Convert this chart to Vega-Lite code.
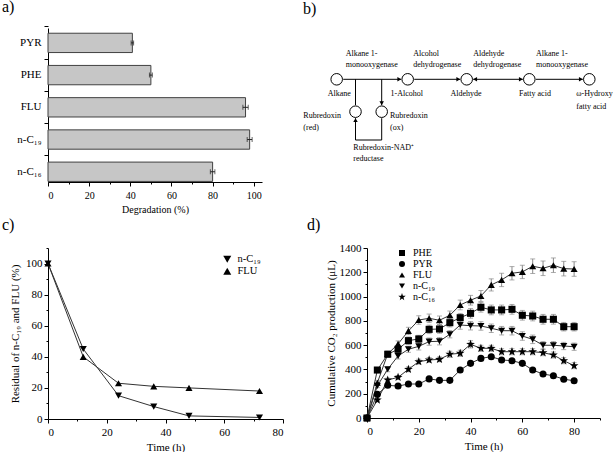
{
  "$schema": "https://vega.github.io/schema/vega-lite/v6.json",
  "padding": {"left": 2, "top": -2, "right": 0, "bottom": 0},
  "background": "white",
  "config": {
    "font": "Liberation Serif",
    "view": {"stroke": null},
    "axis": {"grid": false, "domainColor": "#000", "tickColor": "#000", "labelColor": "#000", "titleColor": "#000", "labelFontSize": 11, "titleFontSize": 11, "titleFontWeight": "normal", "tickSize": 4, "labelPadding": 2, "titlePadding": 4, "labelFont": "Liberation Serif", "titleFont": "Liberation Serif", "labelOverlap": false},
    "title": {"fontSize": 16, "fontWeight": "normal", "anchor": "start", "frame": "group", "baseline": "alphabetic", "color": "#000", "font": "Liberation Serif"},
    "legend": {"labelFont": "Liberation Serif", "labelColor": "#000"}
  },
  "columns": 2,
  "align": "each",
  "bounds": "flush",
  "spacing": {"row": 66, "column": 84},
  "resolve": {"scale": {"shape": "independent"}, "legend": {"shape": "independent"}},
  "concat": [
    {
      "width": 214, "height": 154,
      "title": {"text": "a)", "dx": -46, "offset": 11},
      "data": {"values": [
        {"sample": "PYR", "degradation": 41, "error": 0.6},
        {"sample": "PHE", "degradation": 50, "error": 0.7},
        {"sample": "FLU", "degradation": 96, "error": 1.3},
        {"sample": "n-C₁₉", "degradation": 98, "error": 1.2},
        {"sample": "n-C₁₆", "degradation": 80, "error": 1.1}
      ]},
      "layer": [
        {"mark": {"type": "bar", "fill": "#c6c6c6", "stroke": "#404040", "strokeWidth": 1},
         "encoding": {
           "y": {"field": "sample", "type": "nominal", "sort": ["PYR", "PHE", "FLU", "n-C₁₉", "n-C₁₆"],
                 "scale": {"paddingInner": 0.4, "paddingOuter": 0.09, "align": 0.9},
                 "axis": {"title": null, "labelFontSize": 11, "tickSize": 4, "labelPadding": 3, "bandPosition": -0.33, "labelOverlap": false}},
           "x": {"field": "degradation", "type": "quantitative", "title": "Degradation (%)",
                 "scale": {"domain": [0, 104], "nice": false},
                 "axis": {"values": [0, 10, 20, 30, 40, 50, 60, 70, 80, 90, 100], "tickCount": 100, "labelExpr": "datum.value % 20 === 0 ? datum.label : ''",
                          "tickSize": {"condition": {"test": "datum.value % 20 === 0", "value": 4}, "value": 2}, "labelOverlap": false,
                          "labelFontSize": 10, "titleFontSize": 10, "labelPadding": 4, "titlePadding": 4}}
         }},
        {"mark": {"type": "errorbar", "ticks": {"size": 5}, "color": "#222"},
         "encoding": {
           "y": {"field": "sample", "type": "nominal", "sort": ["PYR", "PHE", "FLU", "n-C₁₉", "n-C₁₆"]},
           "x": {"field": "degradation", "type": "quantitative", "title": "Degradation (%)"},
           "xError": {"field": "error"}
         }}
      ]
    },
    {
      "width": 233, "height": 154,
      "title": {"text": "b)", "dx": -64, "offset": 11},
      "layer": [
        {"data": {"values": [
          {"u": 43.2, "v": 51.3, "u2": 101.2, "v2": 51.3},
          {"u": 114.2, "v": 51.3, "u2": 160.2, "v2": 51.3},
          {"u": 173.2, "v": 51.3, "u2": 222.8, "v2": 51.3},
          {"u": 235.8, "v": 51.3, "u2": 282.8, "v2": 51.3},
          {"u": 55.5, "v": 51.3, "u2": 55.5, "v2": 77.2},
          {"u": 81.7, "v": 51.3, "u2": 81.7, "v2": 77.2},
          {"u": 55.5, "v": 90.2, "u2": 55.5, "v2": 112},
          {"u": 55.5, "v": 112, "u2": 81.7, "v2": 112},
          {"u": 81.7, "v": 90.2, "u2": 81.7, "v2": 112}
         ]},
         "mark": {"type": "rule", "color": "#000", "strokeWidth": 1},
         "encoding": {
           "x": {"field": "u", "type": "quantitative", "scale": {"domain": [67, 300], "nice": false, "zero": false}, "axis": null},
           "y": {"field": "v", "type": "quantitative", "scale": {"domain": [0, 154], "reverse": true, "nice": false, "zero": false}, "axis": null},
           "x2": {"field": "u2"},
           "y2": {"field": "v2"}
         }},
        {"data": {"values": [
          {"u": 99.3, "v": 51.3, "dir": "right"},
          {"u": 158.3, "v": 51.3, "dir": "right"},
          {"u": 175.1, "v": 51.3, "dir": "left"},
          {"u": 220.9, "v": 51.3, "dir": "right"},
          {"u": 280.9, "v": 51.3, "dir": "right"},
          {"u": 81.7, "v": 75.3, "dir": "down"},
          {"u": 55.5, "v": 92.1, "dir": "up"}
         ]},
         "mark": {"type": "point", "filled": true, "color": "#000", "opacity": 1, "size": 20},
         "encoding": {
           "x": {"field": "u", "type": "quantitative"},
           "y": {"field": "v", "type": "quantitative"},
           "shape": {"field": "dir", "type": "nominal", "scale": {"domain": ["right", "left", "up", "down"], "range": ["triangle-right", "triangle-left", "triangle-up", "triangle-down"]}, "legend": null}
         }},
        {"data": {"values": [
          {"u": 36.7, "v": 51.3}, {"u": 107.7, "v": 51.3}, {"u": 166.7, "v": 51.3},
          {"u": 229.3, "v": 51.3}, {"u": 289.3, "v": 51.3}, {"u": 55.5, "v": 83.7}, {"u": 81.7, "v": 83.7}
         ]},
         "mark": {"type": "point", "shape": "circle", "size": 133, "fill": "white", "stroke": "#000", "strokeWidth": 1, "opacity": 1, "fillOpacity": 1},
         "encoding": {
           "x": {"field": "u", "type": "quantitative"},
           "y": {"field": "v", "type": "quantitative"}
         }},
        {"data": {"values": [
          {"t": "Alkane 1-", "u": 45.7, "v": 26}, {"t": "monooxygenase", "u": 45.7, "v": 37},
          {"t": "Alcohol", "u": 113.3, "v": 26}, {"t": "dehydrogenase", "u": 113.3, "v": 37},
          {"t": "Aldehyde", "u": 173.3, "v": 26}, {"t": "dehydrogenase", "u": 173.3, "v": 37},
          {"t": "Alkane 1-", "u": 236, "v": 26}, {"t": "monooxygenase", "u": 236, "v": 37},
          {"t": "ω-Hydroxy", "u": 276.3, "v": 66.3}, {"t": "fatty acid", "u": 276.3, "v": 78.7},
          {"t": "Rubredoxin", "u": 3.3, "v": 88}, {"t": "(red)", "u": 3.3, "v": 100.3},
          {"t": "Rubredoxin", "u": 90, "v": 88}, {"t": "(ox)", "u": 90, "v": 100.3},
          {"t": "Rubredoxin-NAD⁺", "u": 53.3, "v": 120.3}, {"t": "reductase", "u": 53.3, "v": 131.3}
         ]},
         "mark": {"type": "text", "align": "left", "baseline": "middle", "fontSize": 8, "font": "Liberation Serif", "fill": "#000", "color": "#000"},
         "encoding": {
           "x": {"field": "u", "type": "quantitative"},
           "y": {"field": "v", "type": "quantitative"},
           "text": {"field": "t", "type": "nominal"}
         }},
        {"data": {"values": [
          {"t": "Alkane", "u": 39.3, "v": 66.3}, {"t": "1-Alcohol", "u": 106.7, "v": 66.3},
          {"t": "Aldehyde", "u": 166, "v": 66.3}, {"t": "Fatty acid", "u": 235, "v": 66.3}
         ]},
         "mark": {"type": "text", "align": "center", "baseline": "middle", "fontSize": 8, "font": "Liberation Serif", "fill": "#000", "color": "#000"},
         "encoding": {
           "x": {"field": "u", "type": "quantitative"},
           "y": {"field": "v", "type": "quantitative"},
           "text": {"field": "t", "type": "nominal"}
         }}
      ]
    },
    {
      "width": 235, "height": 171,
      "title": {"text": "c)", "dx": -46, "offset": 9},
      "data": {"values": [
        {"compound": "n-C₁₉", "time": 0, "residual": 100},
        {"compound": "n-C₁₉", "time": 12, "residual": 45},
        {"compound": "n-C₁₉", "time": 24, "residual": 15},
        {"compound": "n-C₁₉", "time": 36, "residual": 8},
        {"compound": "n-C₁₉", "time": 48, "residual": 2},
        {"compound": "n-C₁₉", "time": 72, "residual": 1},
        {"compound": "FLU", "time": 0, "residual": 100},
        {"compound": "FLU", "time": 12, "residual": 40},
        {"compound": "FLU", "time": 24, "residual": 23},
        {"compound": "FLU", "time": 36, "residual": 21},
        {"compound": "FLU", "time": 48, "residual": 20},
        {"compound": "FLU", "time": 72, "residual": 18}
      ]},
      "layer": [
        {"mark": {"type": "line", "color": "#333", "strokeWidth": 1},
         "encoding": {
           "x": {"field": "time", "type": "quantitative", "title": "Time (h)", "scale": {"domain": [0, 80], "nice": false},
                 "axis": {"values": [0, 10, 20, 30, 40, 50, 60, 70, 80], "tickCount": 100, "labelExpr": "datum.value % 20 === 0 ? datum.label : ''", "labelOverlap": false,
                          "tickSize": {"condition": {"test": "datum.value % 20 === 0", "value": 4}, "value": 2}, "labelPadding": 3, "titlePadding": 4}},
           "y": {"field": "residual", "type": "quantitative", "title": "Residual of n-C₁₉ and FLU (%)", "scale": {"domain": [0, 110], "nice": false},
                 "axis": {"values": [0, 10, 20, 30, 40, 50, 60, 70, 80, 90, 100, 110], "tickCount": 100, "labelExpr": "datum.value % 20 === 0 ? datum.label : ''", "labelOverlap": false,
                          "tickSize": {"condition": {"test": "datum.value % 20 === 0", "value": 4}, "value": 2}, "labelPadding": 2, "titlePadding": 5}},
           "detail": {"field": "compound"}
         }},
        {"mark": {"type": "point", "filled": true, "color": "#000", "opacity": 1, "size": 50},
         "encoding": {
           "x": {"field": "time", "type": "quantitative", "title": "Time (h)"},
           "y": {"field": "residual", "type": "quantitative", "title": "Residual of n-C₁₉ and FLU (%)"},
           "shape": {"field": "compound", "type": "nominal",
                     "scale": {"domain": ["n-C₁₉", "FLU"], "range": ["triangle-down", "triangle-up"]},
                     "legend": {"orient": "none", "legendX": 174, "legendY": 6, "title": null, "symbolSize": 64, "labelFontSize": 10.5, "labelOffset": 5, "rowPadding": -2, "padding": 0,
                                "encode": {"labels": {"update": {"lineHeight": {"value": 8}}},
                                           "symbols": {"update": {
                                  "shape": {"signal": "datum.value === 'FLU' ? 'M-2,0H2M0,-1L1,0.8H-1Z' : 'M-2,0H2M0,1L1,-0.8H-1Z'"},
                                  "fill": {"value": "#000"}, "stroke": {"value": "#222"}, "strokeWidth": {"value": 1}, "opacity": {"value": 1}}}}}}
         }}
      ]
    },
    {
      "width": 233, "height": 170,
      "title": {"text": "d)", "dx": -60, "offset": 9},
      "data": {"values": [
        {"series": "PHE", "time": 0, "co2": 0, "err": 0},
        {"series": "PHE", "time": 4, "co2": 395, "err": 15},
        {"series": "PHE", "time": 8, "co2": 525, "err": 20},
        {"series": "PHE", "time": 12, "co2": 566, "err": 25},
        {"series": "PHE", "time": 16, "co2": 637, "err": 30},
        {"series": "PHE", "time": 20, "co2": 651, "err": 30},
        {"series": "PHE", "time": 24, "co2": 730, "err": 35},
        {"series": "PHE", "time": 28, "co2": 733, "err": 35},
        {"series": "PHE", "time": 32, "co2": 785, "err": 35},
        {"series": "PHE", "time": 36, "co2": 826, "err": 35},
        {"series": "PHE", "time": 40, "co2": 862, "err": 40},
        {"series": "PHE", "time": 44, "co2": 912, "err": 40},
        {"series": "PHE", "time": 48, "co2": 890, "err": 40},
        {"series": "PHE", "time": 52, "co2": 890, "err": 40},
        {"series": "PHE", "time": 56, "co2": 895, "err": 40},
        {"series": "PHE", "time": 60, "co2": 846, "err": 40},
        {"series": "PHE", "time": 64, "co2": 840, "err": 40},
        {"series": "PHE", "time": 68, "co2": 813, "err": 40},
        {"series": "PHE", "time": 72, "co2": 813, "err": 40},
        {"series": "PHE", "time": 76, "co2": 752, "err": 35},
        {"series": "PHE", "time": 80, "co2": 752, "err": 35},
        {"series": "PYR", "time": 0, "co2": 0, "err": 0},
        {"series": "PYR", "time": 4, "co2": 195, "err": 8},
        {"series": "PYR", "time": 8, "co2": 269, "err": 10},
        {"series": "PYR", "time": 12, "co2": 263, "err": 10},
        {"series": "PYR", "time": 16, "co2": 280, "err": 10},
        {"series": "PYR", "time": 20, "co2": 280, "err": 10},
        {"series": "PYR", "time": 24, "co2": 322, "err": 12},
        {"series": "PYR", "time": 28, "co2": 310, "err": 12},
        {"series": "PYR", "time": 32, "co2": 310, "err": 12},
        {"series": "PYR", "time": 36, "co2": 395, "err": 15},
        {"series": "PYR", "time": 40, "co2": 450, "err": 15},
        {"series": "PYR", "time": 44, "co2": 491, "err": 15},
        {"series": "PYR", "time": 48, "co2": 505, "err": 15},
        {"series": "PYR", "time": 52, "co2": 478, "err": 15},
        {"series": "PYR", "time": 56, "co2": 472, "err": 15},
        {"series": "PYR", "time": 60, "co2": 450, "err": 15},
        {"series": "PYR", "time": 64, "co2": 395, "err": 12},
        {"series": "PYR", "time": 68, "co2": 362, "err": 12},
        {"series": "PYR", "time": 72, "co2": 348, "err": 12},
        {"series": "PYR", "time": 76, "co2": 319, "err": 12},
        {"series": "PYR", "time": 80, "co2": 307, "err": 12},
        {"series": "FLU", "time": 0, "co2": 0, "err": 0},
        {"series": "FLU", "time": 4, "co2": 290, "err": 20},
        {"series": "FLU", "time": 8, "co2": 527, "err": 25},
        {"series": "FLU", "time": 12, "co2": 610, "err": 25},
        {"series": "FLU", "time": 16, "co2": 717, "err": 30},
        {"series": "FLU", "time": 20, "co2": 807, "err": 35},
        {"series": "FLU", "time": 24, "co2": 821, "err": 35},
        {"series": "FLU", "time": 28, "co2": 805, "err": 35},
        {"series": "FLU", "time": 32, "co2": 846, "err": 35},
        {"series": "FLU", "time": 36, "co2": 931, "err": 40},
        {"series": "FLU", "time": 40, "co2": 970, "err": 40},
        {"series": "FLU", "time": 44, "co2": 1005, "err": 45},
        {"series": "FLU", "time": 48, "co2": 1096, "err": 50},
        {"series": "FLU", "time": 52, "co2": 1137, "err": 55},
        {"series": "FLU", "time": 56, "co2": 1192, "err": 55},
        {"series": "FLU", "time": 60, "co2": 1203, "err": 55},
        {"series": "FLU", "time": 64, "co2": 1250, "err": 60},
        {"series": "FLU", "time": 68, "co2": 1233, "err": 60},
        {"series": "FLU", "time": 72, "co2": 1258, "err": 60},
        {"series": "FLU", "time": 76, "co2": 1230, "err": 60},
        {"series": "FLU", "time": 80, "co2": 1227, "err": 60},
        {"series": "n-C₁₉", "time": 0, "co2": 0, "err": 0},
        {"series": "n-C₁₉", "time": 4, "co2": 265, "err": 15},
        {"series": "n-C₁₉", "time": 8, "co2": 401, "err": 20},
        {"series": "n-C₁₉", "time": 12, "co2": 511, "err": 25},
        {"series": "n-C₁₉", "time": 16, "co2": 566, "err": 25},
        {"series": "n-C₁₉", "time": 20, "co2": 590, "err": 30},
        {"series": "n-C₁₉", "time": 24, "co2": 629, "err": 30},
        {"series": "n-C₁₉", "time": 28, "co2": 632, "err": 30},
        {"series": "n-C₁₉", "time": 32, "co2": 690, "err": 30},
        {"series": "n-C₁₉", "time": 36, "co2": 766, "err": 35},
        {"series": "n-C₁₉", "time": 40, "co2": 760, "err": 35},
        {"series": "n-C₁₉", "time": 44, "co2": 758, "err": 35},
        {"series": "n-C₁₉", "time": 48, "co2": 739, "err": 35},
        {"series": "n-C₁₉", "time": 52, "co2": 719, "err": 35},
        {"series": "n-C₁₉", "time": 56, "co2": 719, "err": 35},
        {"series": "n-C₁₉", "time": 60, "co2": 675, "err": 35},
        {"series": "n-C₁₉", "time": 64, "co2": 648, "err": 35},
        {"series": "n-C₁₉", "time": 68, "co2": 599, "err": 30},
        {"series": "n-C₁₉", "time": 72, "co2": 599, "err": 30},
        {"series": "n-C₁₉", "time": 76, "co2": 593, "err": 30},
        {"series": "n-C₁₉", "time": 80, "co2": 587, "err": 30},
        {"series": "n-C₁₆", "time": 0, "co2": 0, "err": 0},
        {"series": "n-C₁₆", "time": 4, "co2": 148, "err": 10},
        {"series": "n-C₁₆", "time": 8, "co2": 313, "err": 15},
        {"series": "n-C₁₆", "time": 12, "co2": 335, "err": 15},
        {"series": "n-C₁₆", "time": 16, "co2": 401, "err": 20},
        {"series": "n-C₁₆", "time": 20, "co2": 464, "err": 20},
        {"series": "n-C₁₆", "time": 24, "co2": 478, "err": 20},
        {"series": "n-C₁₆", "time": 28, "co2": 483, "err": 20},
        {"series": "n-C₁₆", "time": 32, "co2": 525, "err": 25},
        {"series": "n-C₁₆", "time": 36, "co2": 533, "err": 25},
        {"series": "n-C₁₆", "time": 40, "co2": 607, "err": 30},
        {"series": "n-C₁₆", "time": 44, "co2": 574, "err": 25},
        {"series": "n-C₁₆", "time": 48, "co2": 574, "err": 25},
        {"series": "n-C₁₆", "time": 52, "co2": 546, "err": 25},
        {"series": "n-C₁₆", "time": 56, "co2": 546, "err": 25},
        {"series": "n-C₁₆", "time": 60, "co2": 546, "err": 25},
        {"series": "n-C₁₆", "time": 64, "co2": 546, "err": 25},
        {"series": "n-C₁₆", "time": 68, "co2": 538, "err": 25},
        {"series": "n-C₁₆", "time": 72, "co2": 519, "err": 25},
        {"series": "n-C₁₆", "time": 76, "co2": 472, "err": 25},
        {"series": "n-C₁₆", "time": 80, "co2": 431, "err": 25}
      ]},
      "layer": [
        {"mark": {"type": "errorbar", "ticks": {"size": 5}, "color": "#8a8a8a"},
         "encoding": {
           "x": {"field": "time", "type": "quantitative", "title": "Time (h)", "scale": {"domain": [0, 90], "nice": false},
                 "axis": {"values": [0, 10, 20, 30, 40, 50, 60, 70, 80, 90], "tickCount": 100, "labelExpr": "datum.value % 20 === 0 && datum.value <= 80 ? datum.label : ''", "labelOverlap": false,
                          "tickSize": {"condition": {"test": "datum.value % 20 === 0", "value": 4}, "value": 2}, "labelPadding": 3, "titlePadding": 4}},
           "y": {"field": "co2", "type": "quantitative", "title": "Cumulative CO₂ production (μL)", "scale": {"domain": [0, 1400], "nice": false},
                 "axis": {"values": [0, 100, 200, 300, 400, 500, 600, 700, 800, 900, 1000, 1100, 1200, 1300, 1400], "tickCount": 100, "labelExpr": "datum.value % 200 === 0 ? datum.label : ''", "labelOverlap": false,
                          "format": "d",
                          "tickSize": {"condition": {"test": "datum.value % 200 === 0", "value": 4}, "value": 2}, "labelPadding": 2, "titlePadding": 3}},
           "yError": {"field": "err"},
           "detail": {"field": "series"}
         }},
        {"mark": {"type": "line", "color": "#333", "strokeWidth": 1},
         "encoding": {
           "x": {"field": "time", "type": "quantitative", "title": "Time (h)"},
           "y": {"field": "co2", "type": "quantitative", "title": "Cumulative CO₂ production (μL)"},
           "detail": {"field": "series"}
         }},
        {"mark": {"type": "point", "filled": true, "color": "#000", "opacity": 1, "size": 50},
         "encoding": {
           "x": {"field": "time", "type": "quantitative", "title": "Time (h)"},
           "y": {"field": "co2", "type": "quantitative", "title": "Cumulative CO₂ production (μL)"},
           "shape": {"field": "series", "type": "nominal",
                     "scale": {"domain": ["PHE", "PYR", "FLU", "n-C₁₉", "n-C₁₆"],
                               "range": ["square", "circle", "triangle-up", "triangle-down", "M0,-1.3L0.31,-0.43L1.24,-0.4L0.5,0.16L0.76,1.05L0,0.53L-0.76,1.05L-0.5,0.16L-1.24,-0.4L-0.31,-0.43Z"]},
                     "legend": {"orient": "none", "legendX": 30, "legendY": 0, "title": null, "symbolSize": 36, "labelFontSize": 10, "labelOffset": 6, "rowPadding": -2, "padding": 0,
                                "encode": {"labels": {"update": {"lineHeight": {"value": 7}}},
                                           "symbols": {"update": {
                                  "shape": {"signal": "datum.value === 'PHE' ? 'M-2.67,0H2.67M-1.2,-1.2H1.2V1.2H-1.2Z' : datum.value === 'PYR' ? 'M-2.67,0H2.67M-1.33,0A1.33,1.33,0,1,0,1.33,0A1.33,1.33,0,1,0,-1.33,0Z' : datum.value === 'FLU' ? 'M-2.67,0H2.67M0,-1.33L1.33,1.07H-1.33Z' : datum.value === 'n-C₁₉' ? 'M-2.67,0H2.67M0,1.33L1.33,-1.07H-1.33Z' : 'M-2.67,0H2.67M0,-1.6L0.39,-0.53L1.52,-0.49L0.63,0.2L0.95,1.29L0,0.65L-0.95,1.29L-0.63,0.2L-1.52,-0.49L-0.39,-0.53Z'"},
                                  "fill": {"value": "#000"}, "stroke": {"value": "#222"}, "strokeWidth": {"value": 1}, "opacity": {"value": 1}}}}}}
         }}
      ]
    }
  ]
}
